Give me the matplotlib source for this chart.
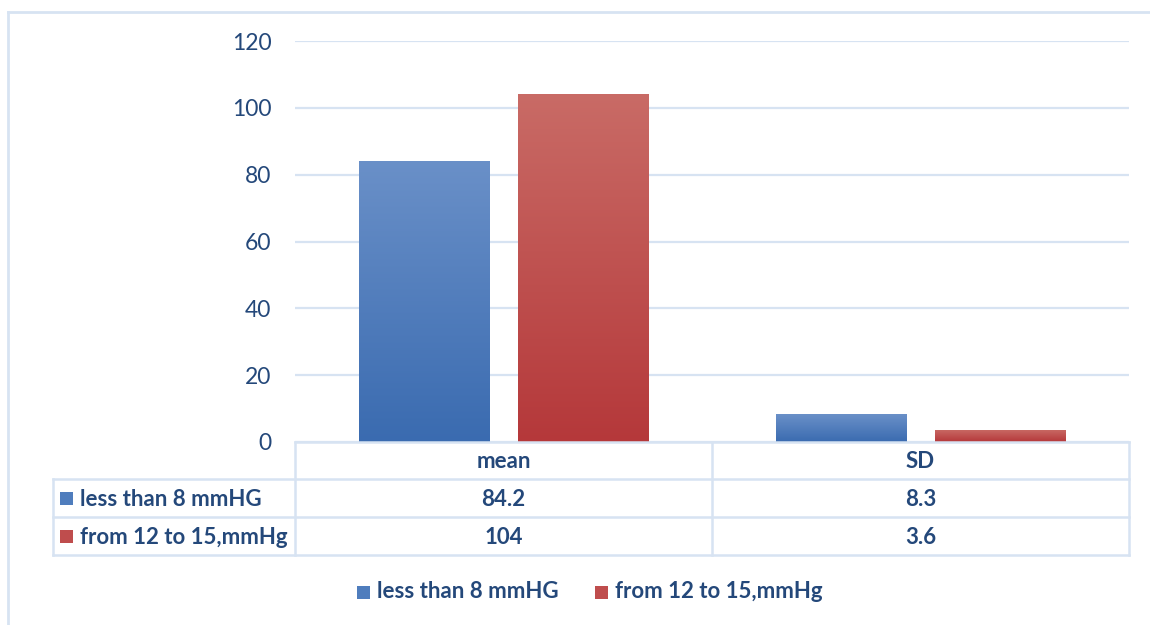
import numpy as np
import matplotlib
matplotlib.use("Agg")
import matplotlib.pyplot as plt
from matplotlib.colors import LinearSegmentedColormap
from matplotlib.patches import Rectangle
from matplotlib.lines import Line2D

# ---- data ----
categories = ["mean", "SD"]
series_names = ["less than 8 mmHG", "from 12 to 15,mmHg"]
less_than_8 = [84.2, 8.3]
from_12_to_15 = [104, 3.6]
table_labels = [["84.2", "8.3"], ["104", "3.6"]]
y_ticks = [0, 20, 40, 60, 80, 100, 120]

plt.rcParams["font.family"] = ["Lato", "DejaVu Sans"]

W, H = 1150, 625
fig = plt.figure(figsize=(W / 100, H / 100), dpi=100)
fig.patch.set_facecolor("white")

TEXT = "#24487A"
GRID = "#D7E3F2"
FS = 16

# plot area in pixels
L, R, B, T = 295, 1129, 442, 41
ax = fig.add_axes([L / W, 1 - B / H, (R - L) / W, (B - T) / H])
ax.set_ylim(0, 120)
ax.set_xlim(-0.5, 1.5)
ax.set_yticks(y_ticks)
ax.set_xticks([])
for s in ax.spines.values():
    s.set_visible(False)
ax.yaxis.grid(True, color=GRID, linewidth=1.6)
ax.set_axisbelow(True)
ax.tick_params(axis="y", length=0, pad=17, labelsize=16.5, labelcolor=TEXT)

# bars with vertical gradients
x = np.arange(len(categories))
bw = 0.312
off = 0.19
blue_cmap = LinearSegmentedColormap.from_list("b", ["#3A6BB0", "#6A90C8"])
red_cmap = LinearSegmentedColormap.from_list("r", ["#B5383A", "#C96B66"])
grad = np.linspace(0, 1, 256).reshape(-1, 1)

for vals, xs, cmap, mid in [(less_than_8, x - off, blue_cmap, "#4F7DBD"),
                            (from_12_to_15, x + off, red_cmap, "#BF4D4D")]:
    bars = ax.bar(xs, vals, width=bw, color=mid, linewidth=0, zorder=2)
    for b in bars:
        x0, y0 = b.get_x(), b.get_y()
        im = ax.imshow(grad, extent=[x0, x0 + b.get_width(), y0, y0 + b.get_height()],
                       origin="lower", aspect="auto", cmap=cmap, zorder=3,
                       interpolation="bicubic")
        im.set_clip_path(b)
ax.set_xlim(-0.5, 1.5)
ax.set_ylim(0, 120)

# ---- data table beneath the axis ----
def fx(px):
    return px / W

def fy(py):
    return 1 - py / H

def hline(x0, x1, y):
    fig.add_artist(Line2D([fx(x0), fx(x1)], [fy(y), fy(y)], color=GRID, lw=1.8,
                          transform=fig.transFigure))

def vline(x, y0, y1):
    fig.add_artist(Line2D([fx(x), fx(x)], [fy(y0), fy(y1)], color=GRID, lw=1.8,
                          transform=fig.transFigure))

tl, tm = 53, (L + R) / 2
rows_y = [442, 479, 517, 555]
hline(L, R, rows_y[0])
for yy in rows_y[1:]:
    hline(tl, R, yy)
vline(tl, rows_y[1], rows_y[3])
vline(L, rows_y[0], rows_y[3])
vline(tm, rows_y[0], rows_y[3])
vline(R, rows_y[0], rows_y[3])

col_centers = [(L + tm) / 2, (tm + R) / 2]
tkw = dict(transform=fig.transFigure, color=TEXT, fontsize=FS, fontweight="bold",
           ha="center", va="center")
for c, cx in zip(categories, col_centers):
    fig.text(fx(cx), fy((rows_y[0] + rows_y[1]) / 2 + 1), c, **tkw)

swatch_colors = ["#4F7DBD", "#BF4D4D"]
for i in range(2):
    yc = (rows_y[i + 1] + rows_y[i + 2]) / 2 + 1
    fig.add_artist(Rectangle((fx(60), fy(yc + 6)), 13 / W, 13 / H,
                             facecolor=swatch_colors[i], edgecolor="none",
                             transform=fig.transFigure))
    fig.text(fx(80), fy(yc), series_names[i], transform=fig.transFigure, color=TEXT,
             fontsize=FS, fontweight="bold", ha="left", va="center")
    for j, cx in enumerate(col_centers):
        fig.text(fx(cx), fy(yc), table_labels[i][j], **tkw)

# ---- legend ----
leg_y = 592
for sx, name, col in [(357, series_names[0], swatch_colors[0]),
                      (595, series_names[1], swatch_colors[1])]:
    fig.add_artist(Rectangle((fx(sx), fy(leg_y + 6.5)), 13 / W, 13 / H,
                             facecolor=col, edgecolor="none", transform=fig.transFigure))
    fig.text(fx(sx + 20), fy(leg_y), name, transform=fig.transFigure, color=TEXT,
             fontsize=FS, fontweight="bold", ha="left", va="center")

# ---- chart frame ----
fig.add_artist(Line2D([fx(7.5), fx(7.5)], [fy(11.5), 0], color=GRID, lw=2,
                      transform=fig.transFigure))
fig.add_artist(Line2D([fx(7.5), 1], [fy(11.5), fy(11.5)], color=GRID, lw=2,
                      transform=fig.transFigure))

fig.savefig("out.png", dpi=100, facecolor="white")
